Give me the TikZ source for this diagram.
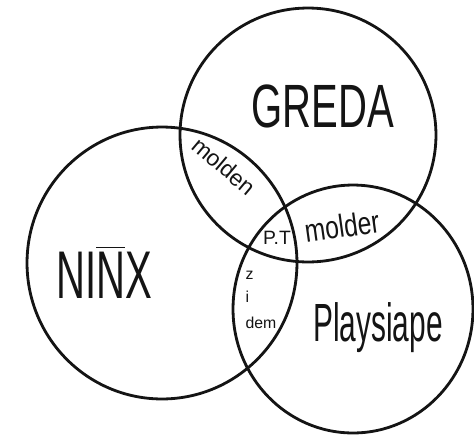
\documentclass[tikz,border=0pt]{standalone}
\usepackage{fontspec}
\setmainfont{Liberation Sans}
\usetikzlibrary{shapes.geometric, positioning}
\definecolor{inkblack}{HTML}{141414}
\tikzset{
  setring/.style={ellipse, draw=inkblack, line width=1.6pt, inner sep=0pt, outer sep=0pt},
  setname/.style={text=inkblack, inner sep=0pt},
  overlapname/.style={text=inkblack, inner sep=0pt, align=left},
}

\begin{document}
\begin{tikzpicture}[x=0.02cm, y=-0.02cm]
  \useasboundingbox (0,0) rectangle (474,434);
  % the three sets
  \node[setring, minimum width=5.4cm, minimum height=5.44cm] (ninx) at (162,263) {};
  \node[setring, minimum width=5.12cm, minimum height=5.08cm] (greda) at (308,135) {};
  \node[setring, minimum width=4.8cm, minimum height=4.96cm] (play) at (353,309) {};
  % set names
  \node[setname, font=\fontsize{24}{24}\selectfont] (gredatext) at (323,106) {\scalebox{0.95}[1.45]{GREDA}};
  \node[setname, font=\fontsize{24}{24}\selectfont] (ninxtext) at (104,272) {\scalebox{0.95}[1.6]{NI$\overline{\hbox{N}}$X}};
  \node[setname, font=\fontsize{17}{17}\selectfont] (playtext) at (378,328) {\scalebox{1}[1.8]{Playsiape}};
  % overlaps
  \node[overlapname, font=\fontsize{13}{13}\selectfont, rotate=-40] (ngtext) at (224,166) {molden};
  \node[overlapname, font=\fontsize{14}{14}\selectfont, rotate=8] (gptext) at (342,226) {\scalebox{1}[1.3]{molder}};
  \node[overlapname, font=\fontsize{11}{11}\selectfont] (alltext) at (277,238) {P.T};
  \node[overlapname, font=\fontsize{9}{11}\selectfont] (nptext) at (261,300) {z\\[2pt]i\\[4pt]dem};
\end{tikzpicture}
\end{document}
